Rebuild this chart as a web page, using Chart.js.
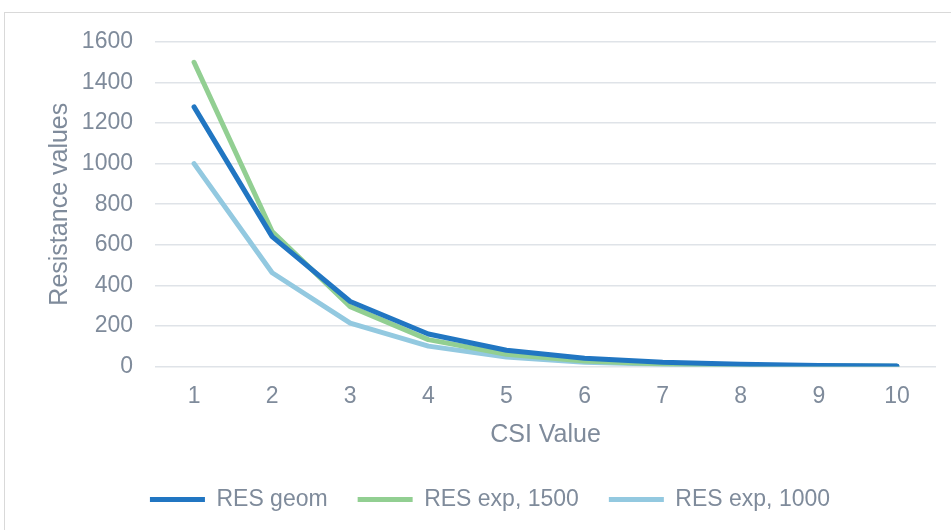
<!DOCTYPE html>
<html>
<head>
<meta charset="utf-8">
<script src="https://cdn.jsdelivr.net/npm/chart.js@4/dist/chart.umd.min.js"></script>
<style>
  html, body { margin: 0; padding: 0; background: #fff; }
  #frame {
    position: absolute; left: 4px; top: 12px; width: 960px; height: 540px;
    border: 1px solid #d9d9d9; box-sizing: border-box;
  }
  #wrap { position: absolute; left: 0; top: 0; width: 951px; height: 530px; }
</style>
</head>
<body>
<div id="frame"></div>
<div id="wrap"><canvas id="chart"></canvas></div>
<script>
const csiValues = ["1", "2", "3", "4", "5", "6", "7", "8", "9", "10"];
const resGeom = [1280, 640, 320, 160, 80, 40, 20, 10, 5, 2.5];
const resExp1500 = [1500, 665, 295, 132, 60, 27, 12, 5.5, 2.5, 1.1];
const resExp1000 = [1000, 462, 213, 100, 46, 21, 10, 4.5, 2, 0.9];
const yTicks = [0, 200, 400, 600, 800, 1000, 1200, 1400, 1600];

const textColor = "#7f8b9b";
const font = "'Liberation Sans', Arial, sans-serif";

new Chart(document.getElementById("chart"), {
  type: "line",
  data: {
    labels: csiValues,
    datasets: [
      { label: "RES geom", data: resGeom, borderColor: "#2176c2", backgroundColor: "#2176c2", borderWidth: 5 },
      { label: "RES exp, 1500", data: resExp1500, borderColor: "#92cf92", backgroundColor: "#92cf92", borderWidth: 5 },
      { label: "RES exp, 1000", data: resExp1000, borderColor: "#93c9e0", backgroundColor: "#93c9e0", borderWidth: 5 },
    ],
  },
  options: {
    responsive: true,
    maintainAspectRatio: false,
    animation: false,
    layout: { padding: { top: 42, right: 15, bottom: 9, left: 44 } },
    elements: {
      line: { borderWidth: 5, tension: 0, borderCapStyle: "round", borderJoinStyle: "round" },
      point: { radius: 0, hoverRadius: 0 },
    },
    plugins: {
      legend: {
        position: "bottom",
        labels: {
          usePointStyle: true,
          pointStyle: "line",
          pointStyleWidth: 55,
          boxWidth: 55,
          padding: 30,
          color: textColor,
          font: { family: font, size: 23 },
        },
      },
      tooltip: { enabled: false },
    },
    scales: {
      x: {
        offset: true,
        grid: { display: false, drawTicks: false },
        border: { display: false },
        ticks: { color: textColor, font: { family: font, size: 23 }, padding: 16 },
        title: {
          display: true, text: "CSI Value", color: textColor,
          font: { family: font, size: 25 }, padding: { top: -6, bottom: 8 },
        },
      },
      y: {
        min: 0,
        max: 1600,
        afterBuildTicks(scale) { scale.ticks = yTicks.map((v) => ({ value: v })); },
        afterFit(scale) { scale.width = 111; },
        grid: { color: "#dfe3e8", lineWidth: 1.5, drawTicks: false },
        border: { display: false },
        ticks: {
          color: textColor, font: { family: font, size: 23 }, padding: 22,
          callback: (v) => String(v),
        },
        title: {
          display: true, text: "Resistance values", color: textColor,
          font: { family: font, size: 25 }, padding: { top: 1, bottom: 0 },
        },
      },
    },
  },
});
</script>
</body>
</html>
